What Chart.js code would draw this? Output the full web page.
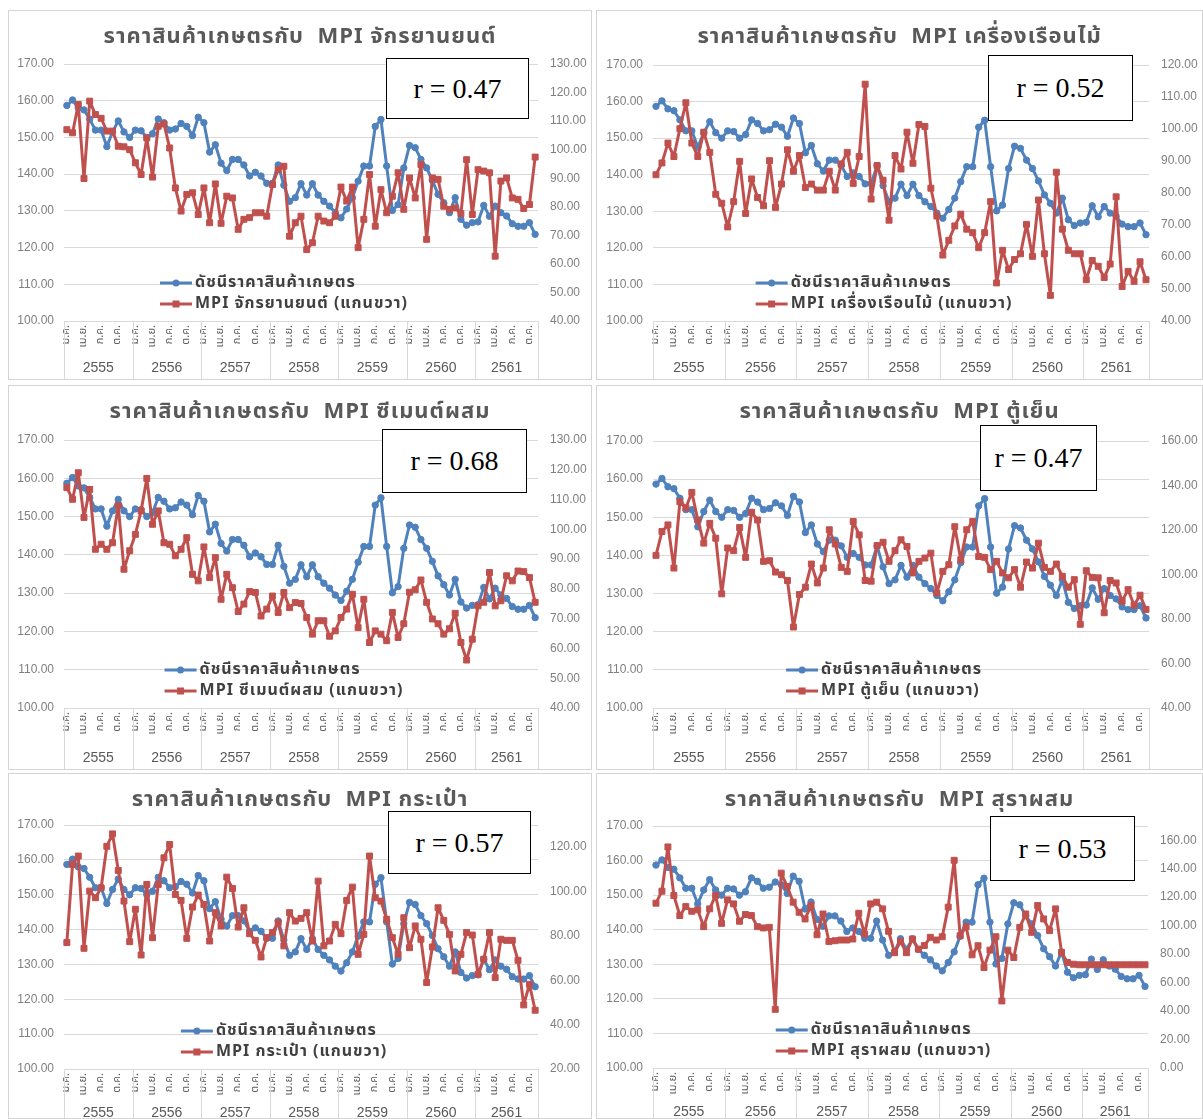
<!DOCTYPE html>
<html lang="th">
<head>
<meta charset="UTF-8">
<title>ราคาสินค้าเกษตรกับ MPI</title>
<script src="https://cdn.jsdelivr.net/npm/chart.js@4.4.1/dist/chart.umd.min.js"></script>
<style>
    body {
        margin: 0;
        background: #fff;
        font-family: "Noto Sans Thai", Tahoma, "Noto Sans", "DejaVu Sans", sans-serif;
    }
    .panel {
        position: absolute;
        border: 1px solid #d4d4d4;
        background: #fff;
        box-sizing: border-box;
    }
    .panel canvas { position: absolute; left: 0; top: 0; }
    .title {
        position: absolute;
        left: 0; right: 0; top: 9px;
        text-align: center;
        font-weight: bold;
        font-size: 22px;
        letter-spacing: 1px;
        color: #595959;
        white-space: pre;
    }
    .rbox {
        position: absolute;
        border: 1.5px solid #000;
        background: #fff;
        box-sizing: border-box;
        display: flex;
        align-items: center;
        justify-content: center;
        font-family: "Liberation Serif", "Times New Roman", serif;
        font-size: 28px;
        color: #000;
    }
</style>
</head>
<body>

<script>
    // categories
    const years = ['2555', '2556', '2557', '2558', '2559', '2560', '2561'];
    const monthAbbr = ['ม.ค.', 'ก.พ.', 'มี.ค.', 'เม.ย.', 'พ.ค.', 'มิ.ย.', 'ก.ค.', 'ส.ค.', 'ก.ย.', 'ต.ค.', 'พ.ย.', 'ธ.ค.'];
    const monthsPerYear = [12, 12, 12, 12, 12, 12, 11];

    // left axis series: agricultural price index (same in every chart)
    const agriIndex = [
        158.7, 160.2, 158.0, 157.5, 155.0, 152.0, 152.0, 147.5, 151.5, 154.5, 151.5, 150.0,
        152.0, 151.8, 150.0, 151.0, 155.0, 154.0, 152.0, 152.3, 153.8, 153.0, 150.5, 155.5,
        154.0, 146.0, 148.0, 143.0, 141.0, 144.0, 144.0, 142.5, 139.5, 140.5, 139.5, 137.5,
        137.5, 142.5, 137.0, 132.6, 133.6, 137.4, 134.3, 137.4, 134.3, 132.6, 131.3, 129.5,
        128.1, 130.5, 133.6, 138.1, 142.2, 142.2, 153.0, 154.9, 142.2, 130.1, 131.7, 141.7,
        147.8, 147.2, 144.0, 141.7, 138.3, 134.5, 132.2, 129.5, 133.6, 127.7, 126.1, 126.8,
        127.0, 131.5, 128.5, 131.3, 129.5, 128.6, 126.5, 125.8, 125.8, 126.8, 123.6
    ];

    // right axis series: MPI of each industry
    const mpiMotorcycle = [
        107.0, 105.9, 115.8, 89.9, 117.0, 112.3, 111.0, 106.5, 106.5, 101.2, 101.0, 100.0,
        95.4, 91.3, 104.1, 90.4, 108.2, 109.0, 100.6, 86.6, 78.5, 84.3, 84.9, 77.3,
        86.6, 74.4, 88.0, 74.2, 83.7, 83.1, 72.1, 75.6, 76.2, 77.9, 77.9, 76.7,
        87.8, 93.0, 94.2, 69.7, 74.4, 76.7, 65.0, 67.4, 76.7, 75.0, 74.4, 76.7,
        86.9, 82.0, 86.9, 65.7, 75.6, 91.3, 73.2, 86.0, 77.9, 83.7, 91.9, 79.1,
        90.1, 83.1, 94.8, 68.6, 90.1, 89.6, 80.2, 79.1, 79.6, 77.6, 96.5, 77.3,
        93.0, 92.5, 91.9, 62.7, 89.0, 90.1, 83.1, 82.6, 79.4, 80.8, 97.4
    ];
    const mpiWoodFurniture = [
        85.7, 89.4, 95.6, 91.4, 100.1, 108.2, 95.6, 91.4, 99.0, 92.7, 79.6, 76.8,
        69.4, 77.3, 89.9, 73.6, 84.4, 78.6, 76.0, 90.1, 75.5, 82.8, 93.5, 86.8,
        91.7, 81.7, 82.8, 80.9, 80.9, 86.8, 80.9, 89.1, 92.7, 83.0, 91.4, 114.0,
        78.1, 88.6, 84.0, 71.5, 91.7, 87.5, 99.0, 89.3, 101.4, 100.8, 81.5, 72.8,
        60.6, 65.2, 69.7, 73.4, 68.7, 67.6, 62.9, 67.6, 77.3, 51.9, 62.1, 56.1,
        59.2, 61.0, 70.2, 60.2, 77.8, 61.0, 48.0, 86.5, 68.7, 62.1, 61.0, 61.0,
        52.9, 58.9, 57.1, 53.6, 57.8, 78.8, 50.8, 55.5, 52.4, 58.5, 52.9
    ];
    const mpiCementMix = [
        114.0, 110.1, 119.0, 104.0, 113.4, 93.3, 95.0, 93.3, 95.5, 107.9, 86.6, 92.8,
        98.3, 106.2, 117.1, 101.7, 106.2, 95.5, 95.0, 91.1, 93.3, 97.2, 84.9, 82.7,
        94.1, 83.8, 90.5, 76.5, 84.9, 80.4, 72.4, 74.9, 79.1, 78.8, 70.9, 73.2,
        77.6, 72.1, 78.8, 73.7, 75.4, 75.1, 70.4, 64.8, 69.3, 69.3, 64.1, 65.9,
        70.4, 73.2, 78.2, 67.0, 76.5, 62.0, 65.9, 64.8, 62.6, 72.1, 63.7, 68.3,
        78.9, 79.7, 83.0, 75.5, 69.9, 68.3, 64.8, 66.6, 71.8, 62.0, 56.1, 63.1,
        74.3, 75.5, 85.5, 74.3, 76.0, 84.4, 82.7, 86.0, 85.8, 83.8, 75.5
    ];
    const mpiRefrigerator = [
        108.6, 119.3, 122.3, 102.9, 132.7, 130.0, 136.9, 124.5, 114.1, 123.0, 116.3, 91.3,
        111.9, 110.7, 121.1, 107.7, 128.0, 124.5, 105.9, 106.2, 101.1, 99.9, 97.3, 76.4,
        91.0, 94.3, 104.7, 96.2, 102.9, 120.1, 113.7, 103.2, 101.4, 123.8, 117.8, 97.3,
        97.0, 113.0, 114.5, 105.9, 110.7, 115.6, 112.6, 100.7, 105.9, 107.4, 109.6, 91.7,
        101.4, 104.4, 121.5, 106.6, 120.1, 123.8, 108.1, 107.7, 102.2, 105.9, 100.7, 98.5,
        102.2, 94.3, 105.6, 102.9, 114.1, 103.2, 101.4, 104.7, 99.2, 94.3, 97.7, 77.6,
        101.7, 98.7, 98.5, 82.8, 97.3, 96.2, 88.0, 93.2, 86.2, 90.7, 84.3
    ];
    const mpiBag = [
        77.0, 112.2, 116.0, 74.4, 100.2, 97.2, 101.7, 120.4, 126.0, 109.5, 95.7, 77.4,
        92.0, 71.4, 103.2, 79.2, 103.2, 115.2, 121.2, 98.7, 96.0, 78.9, 93.0, 98.4,
        94.2, 77.7, 90.5, 84.5, 106.5, 101.4, 84.0, 92.7, 81.0, 78.0, 70.5, 79.2,
        81.5, 86.0, 75.5, 90.5, 86.7, 87.9, 90.5, 77.7, 104.7, 75.5, 77.7, 85.2,
        81.0, 96.0, 102.0, 71.7, 80.7, 116.0, 97.2, 95.7, 87.5, 79.2, 71.7, 88.2,
        74.7, 84.5, 78.5, 59.0, 75.0, 92.7, 87.0, 80.7, 64.2, 71.7, 81.5, 80.4,
        62.7, 69.5, 81.5, 61.2, 78.5, 78.0, 78.0, 69.0, 48.9, 58.2, 46.5
    ];
    const mpiBlendedSpirits = [
        115.8, 124.2, 155.3, 121.2, 107.1, 113.4, 110.1, 111.1, 99.3, 111.8, 121.2, 101.6,
        118.1, 115.3, 103.1, 107.8, 107.1, 99.3, 98.4, 98.8, 41.2, 136.9, 127.5, 116.5,
        109.4, 104.7, 114.1, 93.6, 108.2, 88.9, 89.4, 89.9, 89.9, 90.6, 108.7, 94.1,
        115.3, 116.5, 111.8, 96.0, 81.0, 89.0, 81.0, 90.6, 83.5, 86.0, 91.8, 89.9,
        92.2, 113.0, 145.9, 92.9, 99.3, 79.5, 85.9, 70.6, 82.8, 92.2, 47.1, 82.8,
        77.6, 98.8, 108.2, 95.3, 114.1, 104.7, 96.5, 111.8, 81.2, 74.1, 72.9, 72.5,
        72.5, 72.5, 72.5, 72.5, 72.5, 72.5, 72.5, 72.5, 72.5, 72.5, 72.5
    ];

    const mpiNames = ['จักรยานยนต์', 'เครื่องเรือนไม้', 'ซีเมนต์ผสม', 'ตู้เย็น', 'กระเป๋า', 'สุราผสม'];
    const mpiSeries = [mpiMotorcycle, mpiWoodFurniture, mpiCementMix, mpiRefrigerator, mpiBag, mpiBlendedSpirits];
    const correlations = ['0.47', '0.52', '0.68', '0.47', '0.57', '0.53'];
    // right axis [min, max, step]
    const rightAxes = [[40, 130, 10], [40, 120, 10], [40, 130, 10], [40, 160, 20], [20, 130, 20], [0, 170, 20]];

    const labels = [];
    years.forEach((y, i) => {
        for (let m = 0; m < monthsPerYear[i]; m++) labels.push(monthAbbr[m]);
    });

    const BLUE = '#4F81BD';
    const RED = '#C0504D';
    const FONT = '"Noto Sans Thai", Tahoma, "Noto Sans", "DejaVu Sans", sans-serif';

    // page layout of the six panels: position, size, plot area [l, t, r, b], r box [l, t, w, h]
    const panels = [
        {left: 8,   top: 10,  w: 584, h: 370, area: [55, 53, 529, 310], box: [377, 47, 143, 61], yearGap: 47},
        {left: 596, top: 10,  w: 607, h: 370, area: [56, 54, 552, 310], box: [391, 44, 145, 66], yearGap: 47},
        {left: 8,   top: 385, w: 584, h: 385, area: [55, 54, 529, 322], box: [373, 43, 145, 64], yearGap: 50},
        {left: 596, top: 385, w: 607, h: 385, area: [56, 55, 552, 322], box: [383, 39, 117, 66], yearGap: 50},
        {left: 8,   top: 773, w: 584, h: 346, area: [55, 51, 529, 295], box: [379, 37, 143, 63], yearGap: 44},
        {left: 596, top: 773, w: 607, h: 346, area: [56, 52, 551, 294], box: [393, 42, 145, 65], yearGap: 44}
    ];

    // year level of the category axis with separators
    const yearAxis = {
        id: 'yearAxis',
        afterDraw(chart, args, opts) {
            const ctx = chart.ctx;
            const x = chart.scales.x;
            const n = labels.length;
            const half = (x.getPixelForValue(1) - x.getPixelForValue(0)) / 2;
            const bottom = chart.chartArea.bottom;
            ctx.save();
            ctx.strokeStyle = '#d9d9d9';
            ctx.lineWidth = 1;
            ctx.fillStyle = '#595959';
            ctx.font = '14px "Liberation Sans", Arial, sans-serif';
            ctx.textAlign = 'center';
            ctx.textBaseline = 'middle';
            let start = 0;
            years.forEach((y, i) => {
                const end = start + monthsPerYear[i] - 1;
                const x0 = Math.round(x.getPixelForValue(start) - half) + 0.5;
                ctx.beginPath();
                ctx.moveTo(x0, bottom);
                ctx.lineTo(x0, chart.height - 2);
                ctx.stroke();
                const cx = (x.getPixelForValue(start) + x.getPixelForValue(end)) / 2;
                ctx.fillText(y, cx, bottom + opts.gap);
                start = end + 1;
            });
            const xr = Math.round(x.getPixelForValue(n - 1) + half) + 0.5;
            ctx.beginPath();
            ctx.moveTo(xr, bottom);
            ctx.lineTo(xr, chart.height - 2);
            ctx.stroke();
            ctx.restore();
        }
    };

    // legend drawn inside the plot area, like the original
    const insideLegend = {
        id: 'insideLegend',
        afterDatasetsDraw(chart) {
            const ctx = chart.ctx;
            const a = chart.chartArea;
            const sets = chart.data.datasets;
            ctx.save();
            ctx.font = 'bold 16px ' + FONT;
            ctx.letterSpacing = '1px';
            const textW = Math.max(...sets.map(d => ctx.measureText(d.label).width));
            const sample = 32;
            const blockW = sample + 3 + textW;
            const left = (a.left + a.right) / 2 - 17 - blockW / 2;
            const rows = [a.bottom - 38, a.bottom - 17];
            sets.forEach((d, i) => {
                const y = rows[i];
                ctx.strokeStyle = d.borderColor;
                ctx.lineWidth = 3;
                ctx.beginPath();
                ctx.moveTo(left, y);
                ctx.lineTo(left + sample, y);
                ctx.stroke();
                ctx.fillStyle = d.borderColor;
                if (d.pointStyle === 'rect') {
                    ctx.fillRect(left + sample / 2 - 3.5, y - 3.5, 7, 7);
                } else {
                    ctx.beginPath();
                    ctx.arc(left + sample / 2, y, 3.5, 0, Math.PI * 2);
                    ctx.fill();
                }
                ctx.fillStyle = '#404040';
                ctx.textBaseline = 'middle';
                ctx.fillText(d.label, left + sample + 3, y + 1);
            });
            ctx.restore();
        }
    };

    function makePanel(i) {
        const p = panels[i];
        const div = document.createElement('div');
        div.className = 'panel';
        div.style.left = p.left + 'px';
        div.style.top = p.top + 'px';
        div.style.width = p.w + 'px';
        div.style.height = p.h + 'px';
        document.body.appendChild(div);

        const canvas = document.createElement('canvas');
        canvas.width = p.w;
        canvas.height = p.h;
        div.appendChild(canvas);

        const title = document.createElement('div');
        title.className = 'title';
        title.textContent = 'ราคาสินค้าเกษตรกับ  MPI ' + mpiNames[i];
        div.appendChild(title);

        const box = document.createElement('div');
        box.className = 'rbox';
        box.style.left = p.box[0] + 'px';
        box.style.top = p.box[1] + 'px';
        box.style.width = p.box[2] + 'px';
        box.style.height = p.box[3] + 'px';
        box.textContent = 'r = ' + correlations[i];
        div.appendChild(box);

        const [rMin, rMax, rStep] = rightAxes[i];
        const tickFont = {family: '"Liberation Sans", Arial, sans-serif', size: 12};

        new Chart(canvas, {
            type: 'line',
            data: {
                labels: labels,
                datasets: [
                    {
                        label: 'ดัชนีราคาสินค้าเกษตร',
                        data: agriIndex,
                        yAxisID: 'y',
                        borderColor: BLUE,
                        backgroundColor: BLUE,
                        pointStyle: 'circle',
                        pointRadius: 3.2,
                        pointBorderWidth: 1,
                        borderWidth: 3,
                        borderJoinStyle: 'round',
                        borderCapStyle: 'round',
                        tension: 0,
                        order: 1
                    },
                    {
                        label: 'MPI ' + mpiNames[i] + ' (แกนขวา)',
                        data: mpiSeries[i],
                        yAxisID: 'y1',
                        borderColor: RED,
                        backgroundColor: RED,
                        pointStyle: 'rect',
                        pointRadius: 4.2,
                        pointBorderWidth: 1,
                        borderWidth: 3,
                        borderJoinStyle: 'round',
                        borderCapStyle: 'round',
                        tension: 0,
                        order: 0
                    }
                ]
            },
            options: {
                responsive: false,
                animation: false,
                layout: {padding: {top: p.area[1], left: 0, right: 0, bottom: 0}},
                plugins: {
                    legend: {display: false},
                    tooltip: {enabled: false},
                    yearAxis: {gap: p.yearGap}
                },
                scales: {
                    x: {
                        offset: true,
                        grid: {display: false, drawTicks: false},
                        border: {color: '#d9d9d9'},
                        ticks: {
                            autoSkip: false,
                            minRotation: 90,
                            maxRotation: 90,
                            padding: 4,
                            color: '#595959',
                            font: {family: FONT, size: 11},
                            callback: (v, idx) => idx % 3 === 0 ? labels[idx] : ''
                        },
                        afterFit: s => { s.height = p.h - p.area[3]; }
                    },
                    y: {
                        position: 'left',
                        min: 100,
                        max: 170,
                        grid: {color: '#d9d9d9', drawTicks: false},
                        border: {display: false},
                        ticks: {stepSize: 10, padding: 10, color: '#7f7f7f', font: tickFont, callback: v => v.toFixed(2)},
                        afterFit: s => { s.width = p.area[0]; }
                    },
                    y1: {
                        position: 'right',
                        min: rMin,
                        max: rMax,
                        grid: {display: false, drawOnChartArea: false, drawTicks: false},
                        border: {display: false},
                        ticks: {stepSize: rStep, includeBounds: false, padding: 12, color: '#7f7f7f', font: tickFont, callback: v => v.toFixed(2)},
                        afterFit: s => { s.width = p.w - p.area[2]; }
                    }
                }
            },
            plugins: [yearAxis, insideLegend]
        });
    }

    for (let i = 0; i < 6; i++) makePanel(i);
</script>

</body>
</html>
